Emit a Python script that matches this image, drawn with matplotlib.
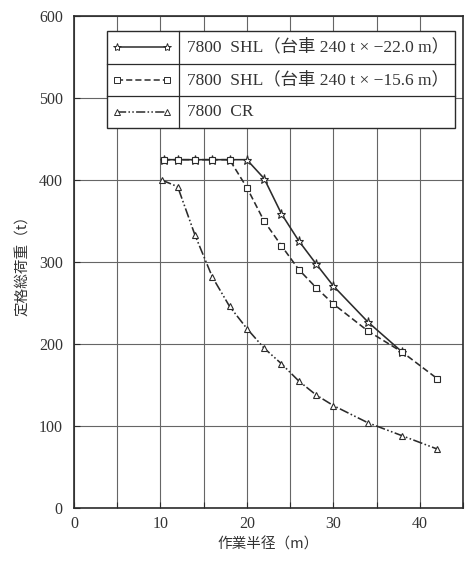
import numpy as np
import matplotlib.pyplot as plt
from matplotlib.patches import Rectangle
from matplotlib.lines import Line2D

# data
shl22_x = [10.4, 12, 14, 16, 18, 20, 22, 24, 26, 28, 30, 34, 38]
shl22_y = [425, 425, 425, 425, 425, 425, 402, 359, 326, 298, 271, 227, 190]

shl15_x = [10.4, 12, 14, 16, 18, 20, 22, 24, 26, 28, 30, 34, 38, 42]
shl15_y = [425, 425, 425, 425, 425, 391, 350, 320, 291, 269, 249, 216, 190, 158]

cr_x = [10.2, 12, 14, 16, 18, 20, 22, 24, 26, 28, 30, 34, 38, 42]
cr_y = [400, 392, 333, 282, 246, 219, 195, 176, 155, 138, 125, 104, 88, 72]

labels = ["7800  SHL（台車 240 t × −22.0 m）",
          "7800  SHL（台車 240 t × −15.6 m）",
          "7800  CR"]

serif = ['Liberation Serif', 'Noto Sans CJK JP']
jp = ['Noto Sans CJK JP', 'Liberation Serif']
ink = '#2b2b2b'

fig = plt.figure(figsize=(4.71, 5.61), dpi=100)
ax = fig.add_axes([0.157, 0.0945, 0.826, 0.8765])

styles = [
    dict(x=shl22_x, y=shl22_y, ls='-', marker='*', ms=6.5, z=3),
    dict(x=shl15_x, y=shl15_y, ls=(0, (4, 2)), marker='s', ms=4.2, z=4),
    dict(x=cr_x, y=cr_y, ls=(0, (6, 1.5, 1, 1.5, 1, 1.5)), marker='^', ms=4.5, z=3),
]
for s in styles:
    ax.plot(s['x'], s['y'], color=ink, lw=1.15, ls=s['ls'], marker=s['marker'],
            ms=s['ms'], mfc='white', mec=ink, mew=0.8, zorder=s['z'])

ax.set_xlim(0, 45)
ax.set_ylim(0, 600)
ax.set_xticks(np.arange(0, 46, 5))
ax.set_xticklabels(['0', '', '10', '', '20', '', '30', '', '40', ''])
ax.set_yticks(np.arange(0, 601, 100))
ax.grid(True, color='#666666', lw=0.8)
ax.set_axisbelow(True)
ax.tick_params(direction='in', length=4, width=0.8, color=ink, labelsize=11.5,
               labelcolor='#333333', top=False, right=False)
ax.tick_params(axis='y', pad=8)
ax.tick_params(axis='x', pad=6)
for lab in ax.get_xticklabels() + ax.get_yticklabels():
    lab.set_family(serif)
for sp in ax.spines.values():
    sp.set_color(ink)
    sp.set_linewidth(1.2)

ax.set_xlabel("作業半径（m）", family=jp, fontsize=10.5, color='#333333', labelpad=4)
ax.set_ylabel("定格総荷重（t）", family=jp, fontsize=10.5, color='#333333', labelpad=6)

# table-like legend box
tr = ax.transAxes
x0, x1, xd = 0.085, 0.979, 0.27
y_top, y_bot = 0.9695, 0.772
rows = np.linspace(y_top, y_bot, 4)
ax.add_patch(Rectangle((x0, y_bot), x1 - x0, y_top - y_bot, transform=tr,
                       facecolor='white', edgecolor=ink, lw=1.0, zorder=6))
ax.add_line(Line2D([xd, xd], [y_bot, y_top], transform=tr, color=ink, lw=0.9, zorder=7))
for yy in rows[1:-1]:
    ax.add_line(Line2D([x0, x1], [yy, yy], transform=tr, color=ink, lw=0.9, zorder=7))
for i, s in enumerate(styles):
    yc = (rows[i] + rows[i + 1]) / 2
    ax.add_line(Line2D([0.111, 0.239], [yc, yc], transform=tr, color=ink, lw=1.1,
                       ls=s['ls'], marker=s['marker'], ms=s['ms'] - 0.5, mfc='white',
                       mec=ink, mew=0.7, zorder=8))
    ax.text(0.29, yc, labels[i], transform=tr, va='center', ha='left', family=serif,
            fontsize=12.5, color='#333333', zorder=8)

fig.savefig('out.png', dpi=100)
